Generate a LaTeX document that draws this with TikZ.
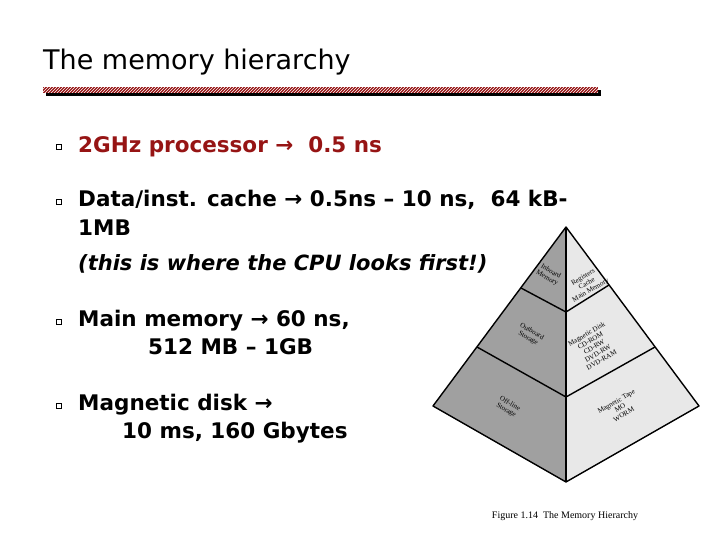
\documentclass[tikz,border=0pt]{standalone}
\usepackage{fontspec}
\setmainfont{DejaVu Sans}
\newfontfamily\capfont{Liberation Serif}
\usetikzlibrary{patterns}
\definecolor{dred}{RGB}{150,20,20}
\definecolor{lface}{RGB}{160,160,160}
\definecolor{rface}{RGB}{232,232,232}
\tikzset{
  body/.style={anchor=base west,font=\bfseries\fontsize{21.5}{24}\selectfont,inner sep=0pt},
  bul/.style={draw=black,line width=0.6pt,minimum size=5.5pt,inner sep=0pt},
  lab/.style={font=\capfont\fontsize{7}{7.5}\selectfont,align=center,inner sep=0pt},
  edge/.style={line width=1.4pt,line join=round}
}
\begin{document}
\begin{tikzpicture}[x=1pt,y=-1pt]
\useasboundingbox (0,0) rectangle (720,540);
\node[anchor=base west,font=\fontsize{27}{30}\selectfont,inner sep=0pt] (title) at (43,70) {The memory hierarchy};
% bar
\fill[black] (46,90) rectangle (601,96);
\fill[dred] (43,87) rectangle (598,93);
\fill[pattern=north east lines,pattern color=white] (43,87) rectangle (598,93);
% bullets
\node[bul] (b1) at (59,147) {};
\node[bul] (b2) at (59,202) {};
\node[bul] (b3) at (59,322) {};
\node[bul] (b4) at (59,406) {};
\node[body,text=dred] (t1) at (78,153) {2GHz processor → \ 0.5 ns};
\node[body] (t2) at (78,207) {Data/inst. cache → 0.5ns – 10 ns, \ 64 kB-};
\node[body] (t2b) at (78,236) {1MB};
\node[body,font=\bfseries\itshape\fontsize{21}{24}\selectfont] (t2c) at (78,270) {(this is where the CPU looks first!)};
\node[body] (t3) at (78,326) {Main memory → 60 ns,};
\node[body] (t3b) at (148,354) {512 MB – 1GB};
\node[body] (t4) at (78,410) {Magnetic disk →};
\node[body] (t4b) at (122,438) {10 ms, 160 Gbytes};
% pyramid
\coordinate (A) at (566,227);
\coordinate (L) at (433,406);
\coordinate (R) at (699,406);
\coordinate (B) at (566,482);
\coordinate (l1) at (521,288);
\coordinate (c1) at (566,312);
\coordinate (r1) at (609,285);
\coordinate (l2) at (477,347);
\coordinate (c2) at (566,397);
\coordinate (r2) at (655,347);
\fill[lface] (A) -- (L) -- (B) -- cycle;
\fill[rface] (A) -- (R) -- (B) -- cycle;
\draw[edge] (A) -- (L) -- (B) -- (R) -- cycle;
\draw[edge] (A) -- (B);
\draw[edge] (l1) -- (c1) -- (r1);
\draw[edge] (l2) -- (c2) -- (r2);
\node[lab,rotate=-30] (p1) at (549,275) {Inboard\\Memory};
\node[lab,rotate=30] (p2) at (587,284) {Registers\\Cache\\Main Memory};
\node[lab,rotate=-30] (p3) at (530,335) {Outboard\\Storage};
\node[lab,rotate=30] (p4) at (594,347) {Magnetic Disk\\CD-ROM\\CD-RW\\DVD-RW\\DVD-RAM};
\node[lab,rotate=-30] (p5) at (508,407) {Off-line\\Storage};
\node[lab,rotate=30] (p6) at (620,408) {Magnetic Tape\\MO\\WORM};
\node[font=\capfont\fontsize{10}{11}\selectfont,inner sep=0pt] (cap) at (565,516) {Figure 1.14\ \ The Memory Hierarchy};
\end{tikzpicture}
\end{document}
